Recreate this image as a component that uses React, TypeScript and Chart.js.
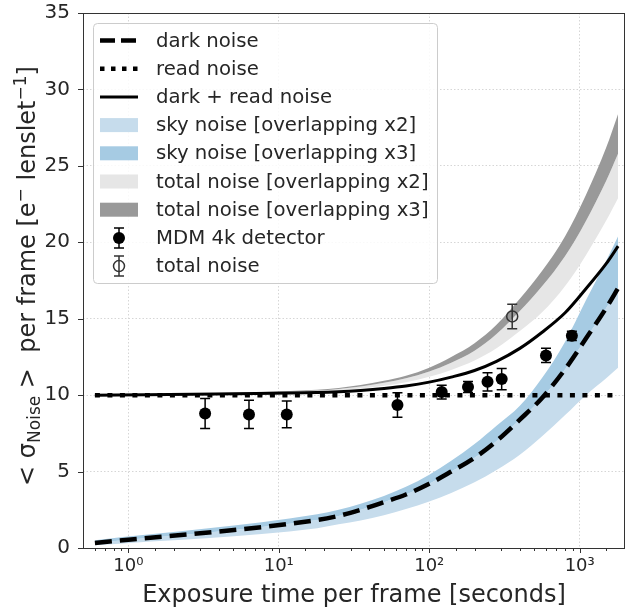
import React, { useEffect, useRef } from "react";
import { Chart, registerables } from "chart.js";

Chart.register(...registerables);

const FONT = "'DejaVu Sans', sans-serif";
const TEXT = "#262626";
const GRID = "#d6d6d6";

// ---- model curves (exposure time in seconds) ----
const modelTimes = [0.6, 18, 25, 35, 50, 70, 100, 140, 200, 280, 400, 560, 800, 1100, 1500, 1800];
const darkNoise = [0.33, 1.83, 2.1, 2.5, 3.0, 3.5, 4.2, 5.0, 5.9, 7.0, 8.4, 9.8, 11.7, 13.7, 15.7, 17.0];
const readNoise = [10, 10, 10, 10, 10, 10, 10, 10, 10, 10, 10, 10, 10, 10, 10, 10];
const darkReadNoise = [10.0, 10.17, 10.22, 10.31, 10.44, 10.6, 10.85, 11.18, 11.61, 12.21, 13.06, 14.1, 15.39, 16.96, 18.6, 19.75];
const skyLow = [0.18, 1.3, 1.55, 1.8, 2.15, 2.55, 3.05, 3.6, 4.3, 5.1, 6.1, 7.3, 8.7, 10.0, 11.1, 11.8];
const skyMid = [0.33, 1.83, 2.1, 2.5, 3.0, 3.5, 4.2, 5.0, 5.9, 7.0, 8.4, 9.8, 11.7, 13.7, 15.7, 17.0];
const skyHigh = [0.5, 2.2, 2.5, 2.9, 3.4, 4.0, 4.8, 5.7, 6.8, 8.0, 9.3, 11.1, 13.5, 16.2, 18.8, 20.4];
const totalLow = [10.01, 10.23, 10.31, 10.44, 10.62, 10.85, 11.2, 11.65, 12.26, 13.06, 14.19, 15.4, 17.14, 19.16, 21.42, 22.9];
const totalMid = [10.01, 10.3, 10.41, 10.57, 10.81, 11.1, 11.54, 12.12, 12.9, 14.0, 15.5, 17.1, 19.1, 21.4, 24.03, 25.81];
const totalHigh = [10.01, 10.35, 10.47, 10.66, 10.94, 11.27, 11.8, 12.5, 13.4, 14.6, 16.3, 18.1, 20.4, 23.1, 26.2, 28.4];

// ---- measurements ----
const mdmTimes = [3.24, 6.34, 11.3, 61.5, 121, 181, 244, 303, 597, 887];
const mdmNoise = [8.8, 8.74, 8.74, 9.35, 10.2, 10.54, 10.87, 11.05, 12.6, 13.88];
const mdmErr = [0.98, 0.93, 0.87, 0.8, 0.45, 0.36, 0.6, 0.7, 0.47, 0.3];
const totalObsTimes = [356];
const totalObsNoise = [15.15];
const totalObsErr = [0.8];

// ---- axes ----
const xMajorTicks = [1, 10, 100, 1000];
const xMajorLabels = ["10⁰", "10¹", "10²", "10³"];
const yMin = 0;
const yMax = 35;
const yStep = 5;
const xMin = 0.5;
const xMax = 2000;

const legendLabels = [
  "dark noise",
  "read noise",
  "dark + read noise",
  "sky noise [overlapping x2]",
  "sky noise [overlapping x3]",
  "total noise [overlapping x2]",
  "total noise [overlapping x3]",
  "MDM 4k detector",
  "total noise",
];

const LIGHT_BLUE = "#c6dcec";
const DARK_BLUE = "#a6cbe3";
const LIGHT_GRAY = "#e6e6e6";
const DARK_GRAY = "#999999";

function pts(xs: number[], ys: number[]) {
  return xs.map((x, i) => ({ x, y: ys[i] }));
}

function isMajor(v: number) {
  const l = Math.log10(v);
  return Math.abs(l - Math.round(l)) < 1e-9;
}

const decorPlugin = {
  id: "decor",
  afterDatasetsDraw(chart: any) {
    const { ctx, scales } = chart;
    const xs = scales.x;
    const ys = scales.y;
    const drawBars = (t: number[], v: number[], e: number[], color: string) => {
      ctx.save();
      ctx.strokeStyle = color;
      ctx.lineWidth = 1.5;
      for (let i = 0; i < t.length; i++) {
        const px = xs.getPixelForValue(t[i]);
        const y1 = ys.getPixelForValue(v[i] - e[i]);
        const y2 = ys.getPixelForValue(v[i] + e[i]);
        ctx.beginPath();
        ctx.moveTo(px, y1);
        ctx.lineTo(px, y2);
        ctx.moveTo(px - 5, y1);
        ctx.lineTo(px + 5, y1);
        ctx.moveTo(px - 5, y2);
        ctx.lineTo(px + 5, y2);
        ctx.stroke();
      }
      ctx.restore();
    };
    drawBars(mdmTimes, mdmNoise, mdmErr, "#000");
    drawBars(totalObsTimes, totalObsNoise, totalObsErr, "#333");
  },
  afterDraw(chart: any) {
    const { ctx, chartArea: a, scales } = chart;
    const xs = scales.x;
    const ys = scales.y;
    ctx.save();
    // frame
    ctx.strokeStyle = "#333";
    ctx.lineWidth = 1;
    ctx.strokeRect(Math.round(a.left) + 0.5, Math.round(a.top) + 0.5, Math.round(a.right - a.left) - 1, Math.round(a.bottom - a.top));
    // ticks
    ctx.beginPath();
    for (const tk of xs.ticks) {
      const v = tk.value;
      if (v <= xMin || v >= xMax) continue;
      const px = Math.round(xs.getPixelForValue(v)) + 0.5;
      const len = isMajor(v) ? 5 : 3;
      ctx.moveTo(px, a.bottom);
      ctx.lineTo(px, a.bottom + len);
    }
    for (const tk of ys.ticks) {
      const py = Math.round(ys.getPixelForValue(tk.value)) + 0.5;
      ctx.moveTo(a.left - 5, py);
      ctx.lineTo(a.left, py);
    }
    ctx.stroke();

    // x title
    ctx.fillStyle = TEXT;
    ctx.font = `24px ${FONT}`;
    ctx.textAlign = "center";
    ctx.textBaseline = "alphabetic";
    ctx.fillText("Exposure time per frame [seconds]", (a.left + a.right) / 2, 602);

    // y title (rich text, rotated)
    const segs = [
      { t: "< σ", s: 24, dy: 0 },
      { t: "Noise", s: 17, dy: 5 },
      { t: " >  per frame [e", s: 24, dy: 0 },
      { t: "−", s: 17, dy: -9 },
      { t: " lenslet", s: 24, dy: 0 },
      { t: "−1", s: 17, dy: -9 },
      { t: "]", s: 24, dy: 0 },
    ];
    let W = 0;
    const widths = segs.map((sg) => {
      ctx.font = `${sg.s}px ${FONT}`;
      const w = ctx.measureText(sg.t).width;
      W += w;
      return w;
    });
    ctx.save();
    ctx.translate(35, 276);
    ctx.rotate(-Math.PI / 2);
    ctx.textAlign = "left";
    let cx = -W / 2;
    segs.forEach((sg, i) => {
      ctx.font = `${sg.s}px ${FONT}`;
      ctx.fillText(sg.t, cx, sg.dy);
      cx += widths[i];
    });
    ctx.restore();

    // legend
    const lx = 93, ly = 23, lw = 344, lh = 260;
    ctx.beginPath();
    ctx.roundRect(lx + 0.5, ly + 0.5, lw, lh, 4);
    ctx.fillStyle = "rgba(255,255,255,0.85)";
    ctx.fill();
    ctx.strokeStyle = "#cccccc";
    ctx.lineWidth = 1;
    ctx.stroke();

    const hx0 = 100, hx1 = 138, tx = 156;
    legendLabels.forEach((label, i) => {
      const cy = 40.5 + i * 28.2;
      ctx.save();
      if (i <= 2) {
        ctx.strokeStyle = "#000";
        ctx.lineCap = "butt";
        if (i === 0) { ctx.lineWidth = 4.5; ctx.setLineDash([15, 6]); }
        if (i === 1) { ctx.lineWidth = 4.5; ctx.setLineDash([4.5, 6.5]); }
        if (i === 2) { ctx.lineWidth = 3; ctx.setLineDash([]); }
        ctx.beginPath();
        ctx.moveTo(hx0, cy);
        ctx.lineTo(hx1, cy);
        ctx.stroke();
      } else if (i <= 6) {
        ctx.fillStyle = [LIGHT_BLUE, DARK_BLUE, LIGHT_GRAY, DARK_GRAY][i - 3];
        ctx.fillRect(hx0, cy - 7, hx1 - hx0, 14);
      } else {
        const mx = (hx0 + hx1) / 2;
        ctx.strokeStyle = i === 7 ? "#000" : "#333";
        ctx.lineWidth = 1.5;
        ctx.beginPath();
        ctx.moveTo(mx, cy - 10); ctx.lineTo(mx, cy + 10);
        ctx.moveTo(mx - 5, cy - 10); ctx.lineTo(mx + 5, cy - 10);
        ctx.moveTo(mx - 5, cy + 10); ctx.lineTo(mx + 5, cy + 10);
        ctx.stroke();
        ctx.beginPath();
        ctx.arc(mx, cy, i === 7 ? 6 : 5.5, 0, Math.PI * 2);
        if (i === 7) { ctx.fillStyle = "#000"; ctx.fill(); }
        else { ctx.stroke(); }
      }
      ctx.restore();
      ctx.fillStyle = TEXT;
      ctx.font = `19.7px ${FONT}`;
      ctx.textAlign = "left";
      ctx.textBaseline = "middle";
      ctx.fillText(label, tx, cy + 1);
    });
    ctx.restore();
  },
};

export default function App() {
  const ref = useRef<HTMLCanvasElement | null>(null);

  useEffect(() => {
    if (!ref.current) return;
    const band = (data: number[], fill: any, color: string, order: number, label: string) => ({
      label,
      data: pts(modelTimes, data),
      borderWidth: 0,
      borderColor: "rgba(0,0,0,0)",
      backgroundColor: color,
      pointRadius: 0,
      fill,
      order,
      cubicInterpolationMode: "monotone",
    });
    const chart = new Chart(ref.current, {
      type: "line",
      data: {
        datasets: [
          band(skyLow, false, "rgba(0,0,0,0)", 30, "sky low"),
          band(skyMid, "-1", LIGHT_BLUE, 29, legendLabels[3]),
          band(skyHigh, "-1", DARK_BLUE, 28, legendLabels[4]),
          band(totalLow, false, "rgba(0,0,0,0)", 27, "total low"),
          band(totalMid, "-1", LIGHT_GRAY, 26, legendLabels[5]),
          band(totalHigh, "-1", DARK_GRAY, 25, legendLabels[6]),
          {
            label: legendLabels[1],
            data: pts(modelTimes, readNoise),
            borderColor: "#000",
            borderWidth: 4.5,
            borderDash: [5, 7.5],
            borderCapStyle: "butt",
            pointRadius: 0,
            fill: false,
            order: 6,
          },
          {
            label: legendLabels[2],
            data: pts(modelTimes, darkReadNoise),
            borderColor: "#000",
            borderWidth: 3,
            pointRadius: 0,
            fill: false,
            order: 5,
            cubicInterpolationMode: "monotone",
          },
          {
            label: legendLabels[0],
            data: pts(modelTimes, darkNoise),
            borderColor: "#000",
            borderWidth: 4.5,
            borderDash: [17, 8],
            borderCapStyle: "butt",
            pointRadius: 0,
            fill: false,
            order: 4,
            cubicInterpolationMode: "monotone",
          },
          {
            label: legendLabels[7],
            data: pts(mdmTimes, mdmNoise),
            showLine: false,
            pointRadius: 6,
            pointBackgroundColor: "#000",
            pointBorderColor: "#000",
            pointBorderWidth: 0,
            order: 1,
          },
          {
            label: legendLabels[8],
            data: pts(totalObsTimes, totalObsNoise),
            showLine: false,
            pointRadius: 5.5,
            pointBackgroundColor: "rgba(0,0,0,0)",
            pointBorderColor: "#333",
            pointBorderWidth: 1.5,
            order: 0,
          },
        ] as any,
      },
      options: {
        animation: false,
        responsive: true,
        maintainAspectRatio: false,
        events: [],
        layout: { padding: { top: 13, right: 1, left: 0, bottom: 0 } },
        plugins: { legend: { display: false }, tooltip: { enabled: false } },
        scales: {
          x: {
            type: "logarithmic",
            min: xMin,
            max: xMax,
            afterFit: (s: any) => {
              s.height = 61;
              s.paddingLeft = 0;
              s.paddingRight = 0;
            },
            border: { display: false, dash: [1.5, 2] },
            grid: {
              color: (c: any) => (c.tick && isMajor(c.tick.value) ? GRID : "rgba(0,0,0,0)"),
              lineWidth: 1,
              drawTicks: false,
            },
            ticks: {
              autoSkip: false,
              maxRotation: 0,
              padding: 8,
              color: TEXT,
              font: { family: FONT, size: 18 },
              callback: (v: any) => {
                const idx = xMajorTicks.findIndex((m) => Math.abs(m - Number(v)) < 1e-9 * m);
                return idx >= 0 ? xMajorLabels[idx] : "";
              },
            },
          },
          y: {
            type: "linear",
            min: yMin,
            max: yMax,
            afterFit: (s: any) => {
              s.width = 83;
              s.paddingTop = 0;
              s.paddingBottom = 0;
            },
            border: { display: false, dash: [1.5, 2] },
            grid: { color: GRID, lineWidth: 1, drawTicks: false },
            ticks: {
              stepSize: yStep,
              padding: 13,
              color: TEXT,
              font: { family: FONT, size: 20 },
            },
          },
        },
      } as any,
      plugins: [decorPlugin],
    });
    return () => chart.destroy();
  }, []);

  return (
    <div style={{ position: "absolute", left: 0, top: 0, width: 632, height: 609 }}>
      <canvas ref={ref} />
    </div>
  );
}
